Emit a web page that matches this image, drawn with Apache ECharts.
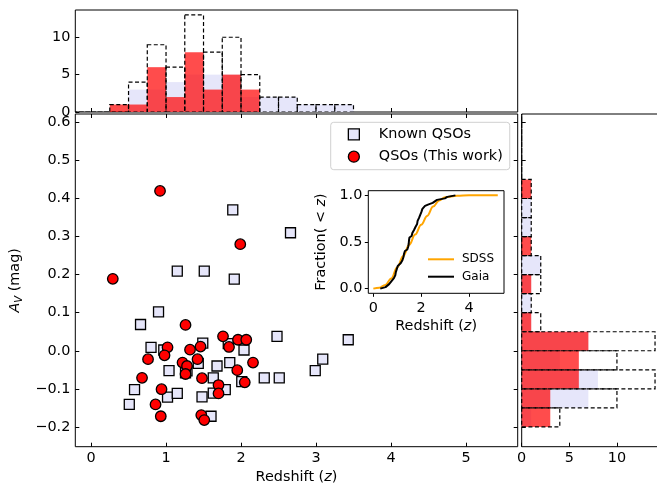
<!DOCTYPE html>
<html><head><meta charset="utf-8">
<script src="https://cdn.jsdelivr.net/npm/echarts@6/dist/echarts.min.js"></script>
<style>html,body{margin:0;padding:0;background:#fff}#c{width:657px;height:483px}</style>
</head><body><div id="c"></div>
<script>
// ---------- data ----------
const knownZ  = [0.90,0.66,0.80,0.97,1.49,1.04,1.28,1.43,1.26,1.68,1.63,1.85,1.83,2.04,2.01,1.79,1.63,1.48,1.02,1.15,0.58,0.51,1.60,2.31,2.51,2.48,2.99,3.09,3.43,1.89,2.66,1.15,1.51,1.91];
const knownAV = [0.102,0.069,0.009,0.002,0.020,-0.052,-0.053,-0.033,-0.058,-0.040,-0.071,-0.031,0.019,0.002,-0.081,-0.102,-0.111,-0.121,-0.122,-0.112,-0.102,-0.141,-0.172,-0.071,-0.071,0.038,-0.052,-0.022,0.029,0.370,0.310,0.209,0.209,0.188];
const workZ   = [0.29,0.92,1.99,1.26,1.76,1.96,2.07,1.02,1.46,1.84,1.32,0.98,0.76,1.42,1.22,2.16,1.28,1.26,1.95,0.68,1.48,2.05,1.70,0.94,1.70,0.86,0.93,1.47,1.51];
const workAV  = [0.189,0.420,0.280,0.068,0.038,0.029,0.029,0.009,0.011,0.010,0.003,-0.012,-0.022,-0.022,-0.031,-0.031,-0.040,-0.061,-0.051,-0.071,-0.072,-0.083,-0.090,-0.101,-0.112,-0.141,-0.172,-0.169,-0.182];

const zEdges = [-0.5,-0.25,0,0.25,0.5,0.75,1.0,1.25,1.5,1.75,2.0,2.25,2.5,2.75,3.0,3.25,3.5];
const zKnownCounts = [0,0,0,0,3,3,4,5,5,5,2,2,2,1,1,1];
const zWorkCounts  = [0,0,0,1,1,6,2,8,3,5,3,0,0,0,0,0];

const avEdges = [-0.2,-0.15,-0.1,-0.05,0,0.05,0.1,0.15,0.2,0.25,0.3,0.35,0.4,0.45,0.5,0.55,0.6,0.65];
const avKnownCounts = [1,7,8,4,7,1,1,1,2,0,1,1,0,0,0,0,0];
const avWorkCounts  = [3,3,6,6,7,1,0,1,0,1,0,0,1,0,0,0,0];

const sdssZ = [0,0.25,0.5,0.75,1.0,1.25,1.5,1.75,2.0,2.25,2.5,2.75,3.0,3.5,4.0,4.5,5.2];
const sdssF = [0,0.01,0.04,0.11,0.23,0.35,0.47,0.58,0.685,0.78,0.88,0.945,0.98,0.995,1.0,1.0,1.0];

const zTicks = [0,1,2,3,4,5];
const avTicks = [-0.2,-0.1,0,0.1,0.2,0.3,0.4,0.5,0.6];
const histCountTicks = [0,5,10];
const insetZTicks = [0,2,4];
const insetFTicks = [0,0.5,1];

// ---------- derived ----------
function pairs(a,b){return a.map((v,i)=>[v,b[i]]);}
function bins(edges,counts){return counts.map((c,i)=>[edges[i],edges[i+1],c]);}
function sum(a,b){return a.map((v,i)=>v+b[i]);}
const allZ = knownZ.concat(workZ).slice().sort((a,b)=>a-b);
const gaia = allZ.map((z,i)=>[z, i/(allZ.length-1)]);

const FONT = 'DejaVu Sans';
const lbl = {fontFamily:FONT, fontSize:14.4, color:'#000'};
const rich = {i:{fontFamily:FONT, fontSize:14.4, fontStyle:'italic', color:'#000'},
              s:{fontFamily:FONT, fontSize:10, fontStyle:'italic', color:'#000', verticalAlign:'bottom', lineHeight:18}};
const tickIn = (vals)=>({show:true, inside:true, length:4, customValues:vals, lineStyle:{color:'#000', width:1}});
const tickOut = (vals)=>({show:true, inside:false, length:3.5, customValues:vals, lineStyle:{color:'#000', width:1}});
const noLine = {show:false, onZero:false};
const noSplit = {show:false};
const minus = v => (Math.abs(v)<1e-9?0:v).toFixed(1).replace('-', '\u2212');

function histRender(horizontal, style){
  return function(params, api){
    const a = api.value(0), b = api.value(1), h = api.value(2);
    let p0, p1;
    if (!horizontal){ p0 = api.coord([a,0]); p1 = api.coord([b,h]); }
    else { p0 = api.coord([0,a]); p1 = api.coord([h,b]); }
    return {type:'rect', shape:{x:Math.min(p0[0],p1[0]), y:Math.min(p0[1],p1[1]),
      width:Math.abs(p1[0]-p0[0]), height:Math.abs(p1[1]-p0[1])}, style:style};
  };
}
const lavStyle = {fill:'#e6e6fa'};
const redStyle = {fill:'rgba(255,0,0,0.7)'};
const dashStyle = {fill:'none', stroke:'#000', lineWidth:1.2, lineDash:[4,2.5]};

const gridBase = {show:true, borderColor:'#000', borderWidth:1, backgroundColor:'transparent', containLabel:false, outerBoundsMode:'none'};
const chart = echarts.init(document.getElementById('c'), null, {renderer:'canvas'});
chart.setOption({
  backgroundColor:'#fff',
  animation:false,
  grid:[
    Object.assign({}, gridBase, {left:75.3, top:114, width:442.4, height:332.7}),
    Object.assign({}, gridBase, {left:75.3, top:10, width:442.4, height:102}),
    Object.assign({}, gridBase, {left:521.7, top:114, width:140, height:332.7}),
    Object.assign({}, gridBase, {left:368.3, top:190.7, width:135.7, height:102.6, backgroundColor:'#fff', z:5})
  ],
  legend:[
    {data:['Known QSOs','QSOs (This work)'], orient:'vertical', left:330.7, top:122.3,
     padding:[4,7,5,17], itemWidth:11, itemHeight:11, itemGap:6.4,
     backgroundColor:'rgba(255,255,255,0.8)', borderColor:'#d0d0d0', borderWidth:1, borderRadius:3,
     itemStyle:{borderColor:'#000', borderWidth:1.3},
     textStyle:{fontFamily:FONT, fontSize:14.4, color:'#000', lineHeight:16, padding:[0,0,0,14.5]}, selectedMode:false, z:10},
    {data:[{name:'SDSS', icon:'rect'},{name:'Gaia', icon:'rect'}], orient:'vertical', left:428, top:252.3, padding:0,
     itemWidth:26, itemHeight:2, itemGap:3.4,
     textStyle:{fontFamily:FONT, fontSize:12, color:'#000', lineHeight:14, padding:[0,0,0,3]}, selectedMode:false, z:10}
  ],
  xAxis:[
    {type:'value', gridIndex:0, min:-0.21, max:5.69, axisLine:noLine, splitLine:noSplit,
     axisTick:tickIn(zTicks), axisLabel:Object.assign({}, lbl, {margin:5, customValues:zTicks}),
     name:'Redshift ({i|z})', nameLocation:'middle', nameGap:24, nameTextStyle:Object.assign({}, lbl, {rich:rich})},
    {type:'value', gridIndex:0, position:'top', min:-0.21, max:5.69, axisLine:noLine, splitLine:noSplit,
     axisTick:tickIn(zTicks), axisLabel:{show:false}},
    {type:'value', gridIndex:1, min:-0.21, max:5.69, axisLine:noLine, splitLine:noSplit,
     axisTick:tickIn(zTicks), axisLabel:{show:false}},
    {type:'value', gridIndex:2, min:0, max:14.7, axisLine:noLine, splitLine:noSplit,
     axisTick:tickIn(histCountTicks), axisLabel:Object.assign({}, lbl, {margin:5, customValues:histCountTicks})},
    {type:'value', gridIndex:3, min:-0.21, max:5.46, axisLine:noLine, splitLine:noSplit,
     axisTick:tickOut(insetZTicks), axisLabel:Object.assign({}, lbl, {margin:8, customValues:insetZTicks}),
     name:'Redshift ({i|z})', nameLocation:'middle', nameGap:26, nameTextStyle:Object.assign({}, lbl, {rich:rich})}
  ],
  yAxis:[
    {type:'value', gridIndex:0, min:-0.252, max:0.622, axisLine:noLine, splitLine:noSplit,
     axisTick:tickIn(avTicks), axisLabel:Object.assign({}, lbl, {margin:5, customValues:avTicks, formatter:minus}),
     name:'{i|A}{s|V} (mag)', nameLocation:'middle', nameGap:47, nameTextStyle:Object.assign({}, lbl, {rich:rich})},
    {type:'value', gridIndex:0, position:'right', min:-0.252, max:0.622, axisLine:noLine, splitLine:noSplit,
     axisTick:tickIn(avTicks), axisLabel:{show:false}},
    {type:'value', gridIndex:1, min:0, max:13.65, axisLine:noLine, splitLine:noSplit,
     axisTick:tickIn(histCountTicks), axisLabel:Object.assign({}, lbl, {margin:5, customValues:histCountTicks})},
    {type:'value', gridIndex:2, min:-0.252, max:0.622, axisLine:noLine, splitLine:noSplit,
     axisTick:tickIn(avTicks), axisLabel:{show:false}},
    {type:'value', gridIndex:3, min:-0.05, max:1.05, axisLine:noLine, splitLine:noSplit,
     axisTick:tickOut(insetFTicks), axisLabel:Object.assign({}, lbl, {margin:6, customValues:insetFTicks, formatter:v=>v.toFixed(1)}),
     name:'Fraction( < {i|z})', nameLocation:'middle', nameGap:40, nameTextStyle:Object.assign({}, lbl, {rich:rich})}
  ],
  series:[
    {name:'Known QSOs', type:'scatter', xAxisIndex:0, yAxisIndex:0, data:pairs(knownZ,knownAV),
     symbol:'rect', symbolSize:10, itemStyle:{color:'#e6e6fa', borderColor:'#000', borderWidth:1.3, opacity:1}, z:2},
    {name:'QSOs (This work)', type:'scatter', xAxisIndex:0, yAxisIndex:0, data:pairs(workZ,workAV),
     symbol:'circle', symbolSize:10.5, itemStyle:{color:'#ff0000', borderColor:'#000', borderWidth:1.3, opacity:1}, z:3},
    {type:'custom', xAxisIndex:2, yAxisIndex:2, clip:true, data:bins(zEdges,zKnownCounts), encode:{x:[0,1], y:2}, renderItem:histRender(false, lavStyle), z:2},
    {type:'custom', xAxisIndex:2, yAxisIndex:2, clip:true, data:bins(zEdges,zWorkCounts), encode:{x:[0,1], y:2}, renderItem:histRender(false, redStyle), z:3},
    {type:'custom', xAxisIndex:2, yAxisIndex:2, clip:true, data:bins(zEdges,sum(zKnownCounts,zWorkCounts)), encode:{x:[0,1], y:2}, renderItem:histRender(false, dashStyle), z:4},
    {type:'custom', xAxisIndex:3, yAxisIndex:3, clip:true, data:bins(avEdges,avKnownCounts), encode:{x:2, y:[0,1]}, renderItem:histRender(true, lavStyle), z:2},
    {type:'custom', xAxisIndex:3, yAxisIndex:3, clip:true, data:bins(avEdges,avWorkCounts), encode:{x:2, y:[0,1]}, renderItem:histRender(true, redStyle), z:3},
    {type:'custom', xAxisIndex:3, yAxisIndex:3, clip:true, data:bins(avEdges,sum(avKnownCounts,avWorkCounts)), encode:{x:2, y:[0,1]}, renderItem:histRender(true, dashStyle), z:4},
    {name:'SDSS', type:'line', xAxisIndex:4, yAxisIndex:4, data:pairs(sdssZ,sdssF), smooth:0.4, smoothMonotone:'x',
     symbol:'none', lineStyle:{color:'#ffa500', width:2}, itemStyle:{color:'#ffa500'}, z:6},
    {name:'Gaia', type:'line', xAxisIndex:4, yAxisIndex:4, data:gaia,
     symbol:'none', lineStyle:{color:'#000', width:2}, itemStyle:{color:'#000'}, z:7}
  ]
});
</script></body></html>
